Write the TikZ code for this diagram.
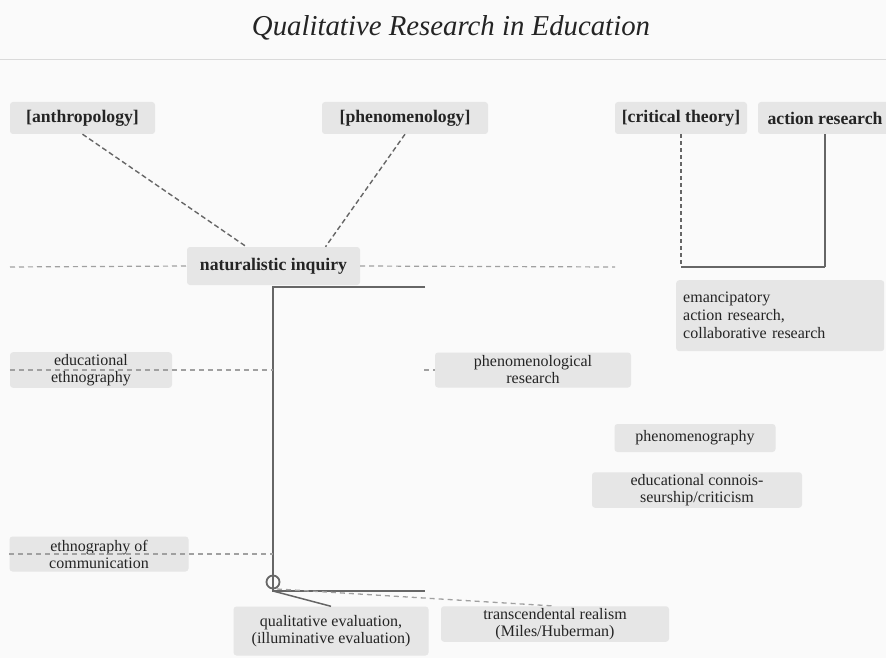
\documentclass[tikz,border=0pt]{standalone}
\usepackage{fontspec}
\setmainfont{Liberation Serif}
\usetikzlibrary{calc}
\definecolor{bg}{HTML}{FAFAFA}
\definecolor{boxgray}{HTML}{E6E6E6}
\definecolor{txt}{HTML}{242424}
\definecolor{darkline}{HTML}{666666}
\definecolor{lightline}{HTML}{A0A0A0}
\definecolor{rulegray}{HTML}{DADADA}
\tikzset{
  box/.style={fill=boxgray, rounded corners=3pt, text=txt, inner sep=2pt, align=center, font=\fontsize{16}{17}\selectfont},
  bbox/.style={box, font=\bfseries\fontsize{17.7}{19}\selectfont},
  dconn/.style={draw=darkline, dash pattern=on 5pt off 3pt, line width=1.4pt},
  lconn/.style={draw=lightline, dash pattern=on 5pt off 4pt, line width=1.2pt},
  sconn/.style={draw=darkline, line width=2pt},
}
\begin{document}
\begin{tikzpicture}[x=1pt,y=-1pt]
\fill[bg] (0,0) rectangle (886,658);
\useasboundingbox (0,0) rectangle (886,658);
\node[text=txt, font=\itshape\fontsize{28.8}{32}\selectfont] (title) at (451,28) {Qualitative Research in Education};
\draw[rulegray, line width=1pt] (0,60) -- (886,60);

% top nodes
\node[bbox, minimum width=145, minimum height=32] (anth) at (82.5,118) {[anthropology]};
\node[bbox, minimum width=166, minimum height=32] (phen) at (405,118) {[phenomenology]};
\node[bbox, minimum width=132, minimum height=32] (crit) at (681,118) {[critical theory]};
\node[bbox, minimum width=134, minimum height=32] (act) at (825,118) {action research};
\node[bbox, minimum width=173, minimum height=38] (nat) at (273.5,266) {naturalistic inquiry};

% other nodes
\node[box, minimum width=208, minimum height=71, align=left, text width=194, anchor=north west, font=\fontsize{16}{18}\selectfont] (eman) at (676,280) {emancipatory\\action research,\\collaborative research};
\node[box, minimum width=162, minimum height=35] (eeth) at (91,370) {educational\\ethnography};
\node[box, minimum width=196, minimum height=35] (pres) at (533,370) {phenomenological\\research};
\node[box, minimum width=161, minimum height=28] (pgr) at (695,438) {phenomenography};
\node[box, minimum width=210, minimum height=35] (conn) at (697,490) {educational connois-\\seurship/criticism};
\node[box, minimum width=179, minimum height=35] (ecom) at (99,554) {ethnography of\\communication};
\node[box, minimum width=195, minimum height=49] (qeval) at (331,631) {qualitative evaluation,\\(illuminative evaluation)};
\node[box, minimum width=228, minimum height=34] (trans) at (555,624) {transcendental realism\\(Miles/Huberman)};

% coordinates
\coordinate (tTop) at (273,287);
\coordinate (tTopR) at (425,287);
\coordinate (tBot) at (273,591);
\coordinate (tBotR) at (425,591);
\coordinate (hl) at (10,267);
\coordinate (hr) at (615,267);
\coordinate (ctc) at (681,267);
\coordinate (arc) at (825,267);
\coordinate (prd) at (424,370);

% connectors top
\draw[dconn] (anth.south) -- ($(nat.north)+(-27,0)$);
\draw[dconn] (phen.south) -- ($(nat.north)+(52,0)$);
\draw[lconn] (hl) -- (nat.west);
\draw[lconn] (nat.east) -- (hr);

% trunk bracket
\draw[sconn] (tTopR) -- (tTop) -- (tBot) -- (tBotR);
\draw[darkline, line width=1.8pt] (273,582) circle (6.5);
\draw[darkline, line width=1.5pt] (tBot) -- (qeval.north);
\draw[lconn, line width=1.3pt] ($(tBot)+(4,-2)$) -- (trans.north);

% side branches
\draw[lconn] (eeth.west) -- (eeth.west -| tBot);
\draw[lconn] (ecom.west) -- (ecom.west -| tBot);
\draw[lconn] (prd) -- (pres.west);

% critical theory / action research
\draw[dconn, dash pattern=on 4pt off 3pt] (crit.south) -- (ctc);
\draw[sconn] (ctc) -- (arc);
\draw[sconn] (act.south) -- (arc);
\end{tikzpicture}
\end{document}
